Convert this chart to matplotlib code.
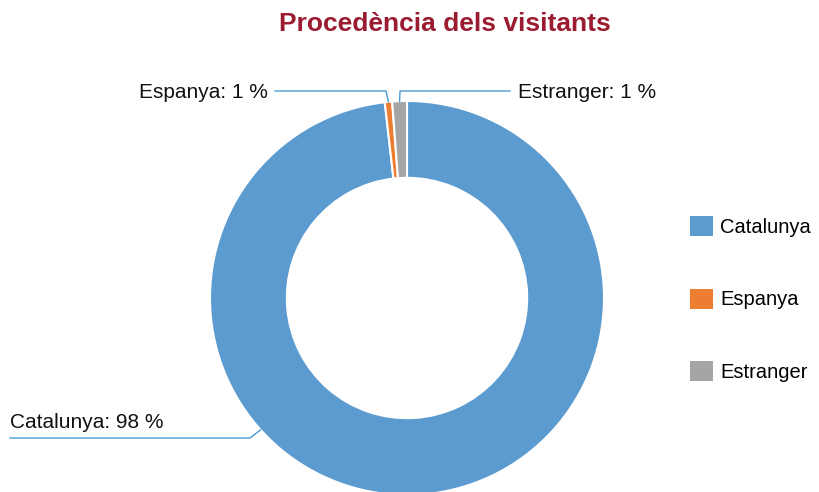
import numpy as np
import matplotlib.pyplot as plt
from matplotlib.patches import Patch

plt.rcParams['font.family'] = ['Liberation Sans', 'DejaVu Sans']

categories = ["Catalunya", "Espanya", "Estranger"]
values = [98.2, 0.6, 1.2]
labels = ["Catalunya: 98 %", "Espanya: 1 %", "Estranger: 1 %"]
colors = ["#5b9bd0", "#ed7d31", "#a5a5a5"]

W, H = 819, 492
fig = plt.figure(figsize=(W / 100, H / 100), dpi=100)

# pie axes placed in pixels: centre (407, 298 from top), radius 197 px
cx, cy, r = 407, 298, 197
ax = fig.add_axes([(cx - r) / W, (H - cy - r) / H, 2 * r / W, 2 * r / H])
wedges, _ = ax.pie(values, colors=colors, startangle=90, counterclock=False,
                   radius=1, wedgeprops=dict(width=0.39, edgecolor="white", linewidth=1.5))
ax.set_xlim(-1, 1)
ax.set_ylim(-1, 1)
ax.set_aspect("equal")
ax.axis("off")
for w in wedges:
    w.set_clip_on(False)


def px(x, y):
    return ((x - cx) / r, (cy - y) / r)


line_kw = dict(color="#4a9bd4", lw=1, clip_on=False)

# Catalunya label (lower left)
ang = np.deg2rad(222)
ax0 = (np.cos(ang) * 1.0, np.sin(ang) * 1.0)
p1 = px(250, 438)
p2 = px(10, 438)
ax.plot([ax0[0], p1[0], p2[0]], [ax0[1], p1[1], p2[1]], **line_kw)
t = px(10, 423)
ax.text(t[0], t[1], labels[0], ha="left", va="center", fontsize=15, color="#111111")

# Espanya label (top left)
mid = 90 - (values[0] + values[1] / 2) / sum(values) * 360
ang = np.deg2rad(mid)
a = (np.cos(ang), np.sin(ang))
p1 = px(386, 91)
p2 = px(275, 91)
ax.plot([a[0], p1[0], p2[0]], [a[1], p1[1], p2[1]], **line_kw)
t = px(268, 92)
ax.text(t[0], t[1], labels[1], ha="right", va="center", fontsize=15, color="#111111")

# Estranger label (top right)
mid = 90 - (values[0] + values[1] + values[2] / 2) / sum(values) * 360
ang = np.deg2rad(mid)
a = (np.cos(ang), np.sin(ang))
p1 = px(400, 91)
p2 = px(510, 91)
ax.plot([a[0], p1[0], p2[0]], [a[1], p1[1], p2[1]], **line_kw)
t = px(518, 92)
ax.text(t[0], t[1], labels[2], ha="left", va="center", fontsize=15, color="#111111")

fig.text(445 / W, 1 - 24 / H, "Procedència dels visitants", ha="center", va="center",
         fontsize=19, fontweight="bold", color="#9b1b30")

handles = [Patch(facecolor=c, edgecolor="none") for c in colors]
fig.legend(handles, categories, loc="center left", bbox_to_anchor=(690 / W, 1 - 299 / H),
           frameon=False, fontsize=14.5, handlelength=1.15, handleheight=1.15,
           handletextpad=0.35, labelspacing=2.55, borderpad=0, borderaxespad=0)

fig.savefig("out.png", dpi=100)
